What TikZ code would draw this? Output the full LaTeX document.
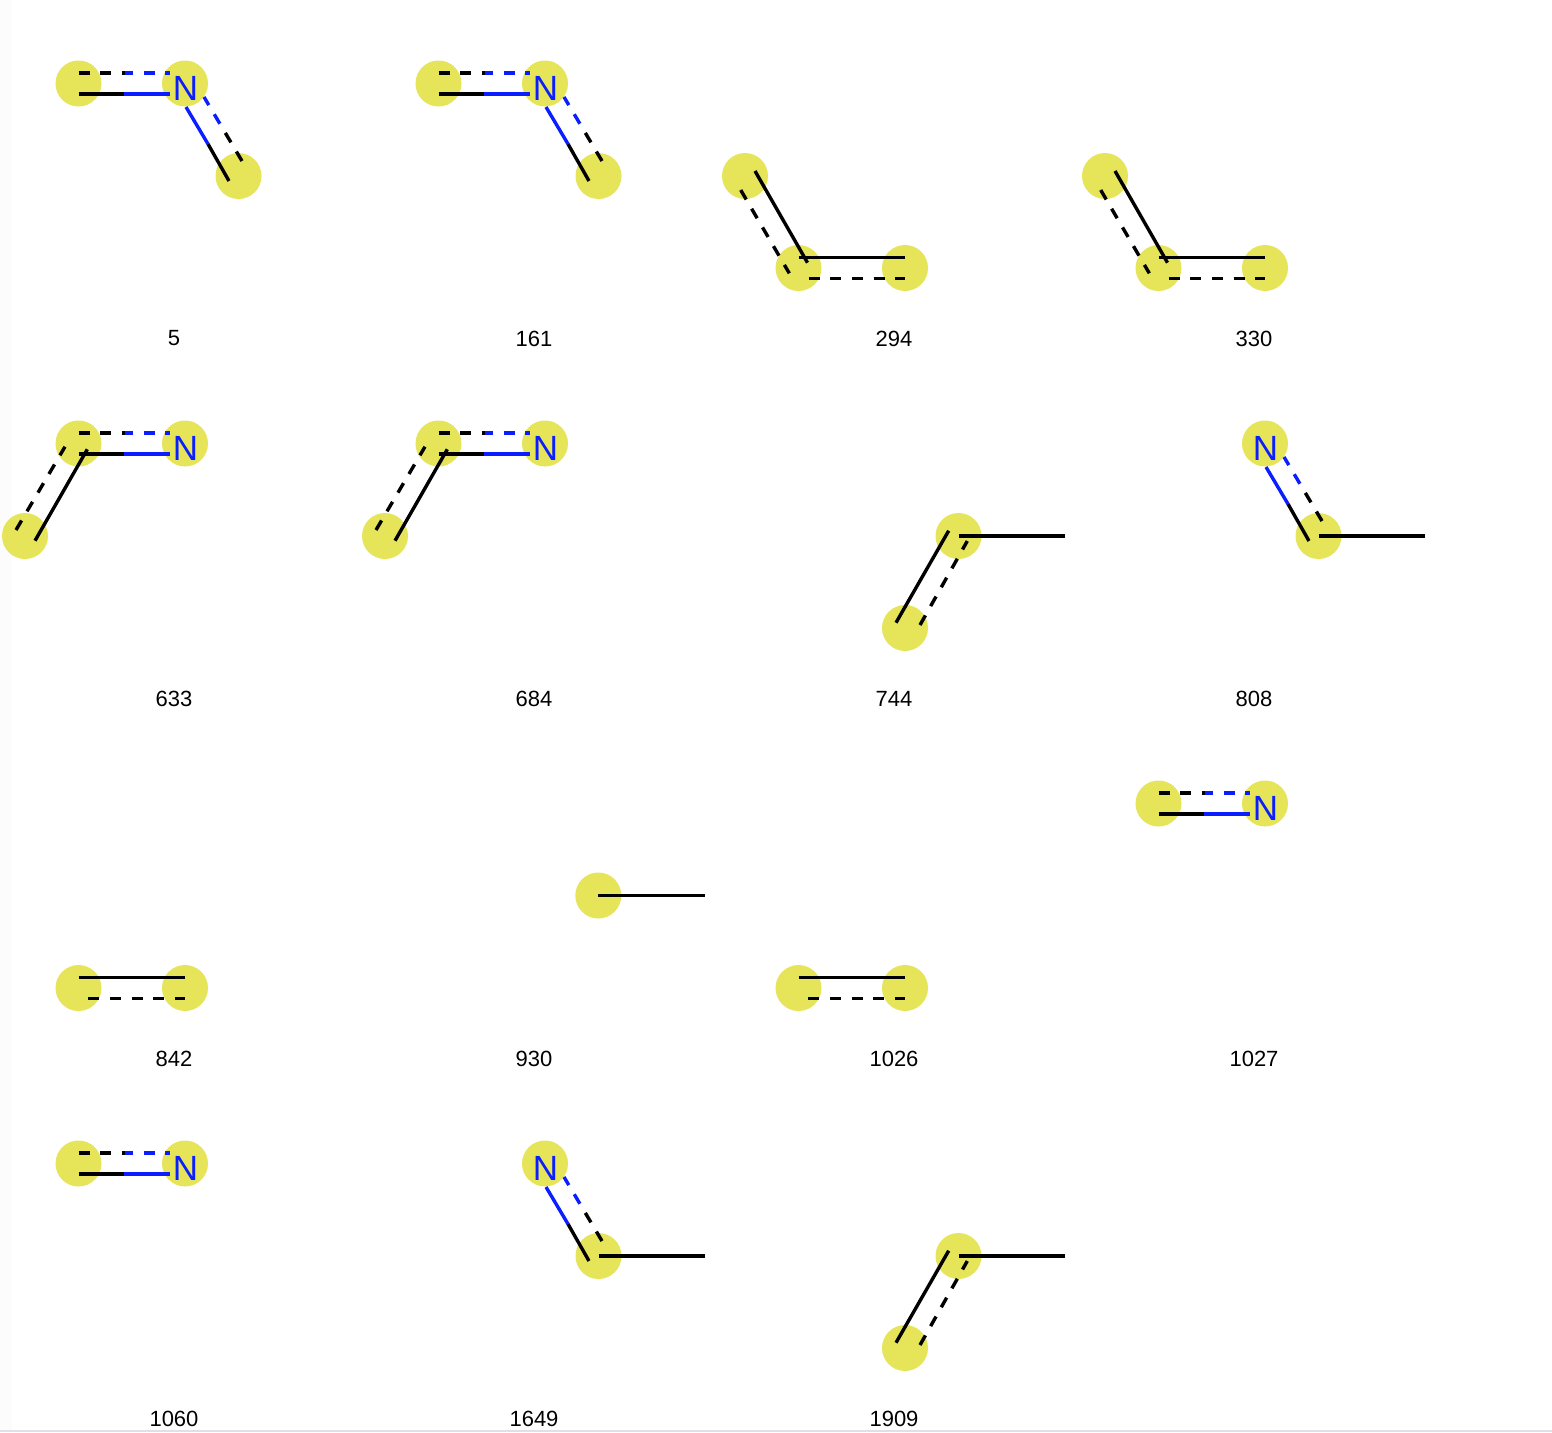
\documentclass[tikz,border=0pt]{standalone}
\usepackage{fontspec}
\setmainfont{Liberation Sans}
\definecolor{atomyellow}{HTML}{E6E55A}
\definecolor{nblue}{HTML}{0A1EFF}
\definecolor{sidegray}{HTML}{FCFCFC}
\definecolor{bargray}{HTML}{E0E0E8}
\tikzset{
  atom/.style={circle,fill=atomyellow,minimum size=46pt,inner sep=0pt,outer sep=0pt},
  bondline/.style={line width=3.4pt},
  dashline/.style={line width=3.4pt,dash pattern=on 11pt off 10.67pt},
  idlabel/.style={font=\fontsize{22}{26}\selectfont,inner sep=0pt,text=black},
  nlabel/.style={font=\fontsize{35}{40}\selectfont,inner sep=0pt,text=nblue}
}
% offset coordinate: name, atom, dx, dy
\newcommand\offc[4]{\coordinate (#1) at ([shift={(#3,#4)}]#2.center);}
% N label over atom
\newcommand\nitrogen[2]{\node[nlabel] (#2) at ([shift={(0.5,5)}]#1.center) {N};}
% horizontal C-N bond pair, atoms (a) and (b)
\newcommand\bondCN{%
  \offc{sa}{a}{0}{10.5}\offc{sm}{a}{45.5}{10.5}\offc{sb}{a}{91}{10.5}%
  \offc{da}{a}{0}{-10.5}\offc{dm}{a}{46}{-10.5}\offc{db}{a}{91.5}{-10.5}%
  \draw[bondline,black] (sa) -- (sm);
  \draw[bondline,nblue] (sm) -- (sb);
  \draw[dashline,black] (da) -- (dm);
  \draw[dashline,nblue,dash phase=46pt] (dm) -- (db);
}
% N-C bond pair going down right from (n) to (c)
\newcommand\bondNC{%
  \offc{ta}{n}{1}{23.5}\offc{tm}{n}{23}{60.5}\offc{tb}{n}{44}{97.5}%
  \offc{ea}{n}{57}{77.5}\offc{em}{n}{37.6}{44.8}\offc{eb}{n}{19}{13.5}%
  \draw[bondline,nblue] (ta) -- (tm);
  \draw[bondline,black] (tm) -- (tb);
  \draw[dashline,black] (ea) -- (em);
  \draw[dashline,nblue,dash phase=38pt] (em) -- (eb);
}
% molecule templates, in the coordinates of the first cell
\newcommand\tplA{% 5, 161
  \node[atom] (a) at (78.5,83.5) {};
  \node[atom] (b) at (185,83.5) {};
  \node[atom] (c) at (238.5,176) {};
  \coordinate (n) at (b);
  \bondCN \bondNC \nitrogen{b}{bl}
}
\newcommand\tplB{% 294, 330
  \node[atom] (a) at (25,176) {};
  \node[atom] (b) at (78.5,268) {};
  \node[atom] (c) at (185,268) {};
  \offc{p1}{a}{10}{-5}\offc{p2}{b}{9}{-5.3}
  \offc{p3}{b}{0}{-10.5}\offc{p4}{c}{0}{-10.5}
  \offc{q1}{a}{-4.3}{14}\offc{q2}{b}{-9.2}{5.3}
  \offc{q3}{b}{10}{10.5}\offc{q4}{c}{0}{10.5}
  \draw[bondline] (p1) -- (p2);
  \draw[bondline] (p3) -- (p4);
  \draw[dashline] (q1) -- (q2);
  \draw[dashline] (q3) -- (q4);
}
\newcommand\tplC{% 633, 684
  \node[atom] (z) at (25,536) {};
  \node[atom] (a) at (78.5,443.5) {};
  \node[atom] (b) at (185,443.5) {};
  \offc{p1}{z}{10}{4.7}\offc{p2}{a}{8.8}{5.8}
  \offc{q1}{z}{-9}{-6}\offc{q2}{a}{-13.5}{3.2}
  \draw[bondline] (p1) -- (p2);
  \draw[dashline] (q1) -- (q2);
  \bondCN \nitrogen{b}{bl}
}
\newcommand\tplD{% 744, 1909
  \node[atom] (a) at (185,628) {};
  \node[atom] (b) at (238.5,536) {};
  \coordinate (e) at (345,536);
  \offc{p1}{a}{-9}{-5.3}\offc{p2}{b}{-9.8}{-5.3}
  \offc{q1}{a}{15}{-3}\offc{q2}{b}{8.8}{5}
  \draw[bondline] (p1) -- (p2);
  \draw[dashline] (q1) -- (q2);
  \draw[bondline] (b.center) -- (e);
}
\newcommand\tplE{% 808, 1649
  \node[atom] (n) at (185,83.5) {};
  \node[atom] (c) at (238.5,176) {};
  \coordinate (e) at (345,176);
  \bondNC
  \draw[bondline] (c.center) -- (e);
  \nitrogen{n}{nl}
}
\newcommand\tplF{% 842, 1026
  \node[atom] (a) at (78.5,988) {};
  \node[atom] (b) at (185,988) {};
  \offc{p1}{a}{0}{-10.7}\offc{p2}{b}{0}{-10.7}
  \offc{q1}{a}{9.8}{10.7}\offc{q2}{b}{0}{10.7}
  \draw[bondline] (p1) -- (p2);
  \draw[dashline] (q1) -- (q2);
}
\newcommand\tplG{% 1027, 1060
  \node[atom] (a) at (78.5,83.5) {};
  \node[atom] (b) at (185,83.5) {};
  \bondCN \nitrogen{b}{bl}
}
\begin{document}
\begin{tikzpicture}[x=1pt,y=-1pt]
\useasboundingbox (0,0) rectangle (1552,1432);
\fill[white] (0,0) rectangle (1552,1432);
\fill[sidegray] (0,0) rectangle (12,1430);
\fill[bargray] (0,1430) rectangle (1552,1432);

\begin{scope}[name prefix=m5-]\tplA\end{scope}
\begin{scope}[shift={(360,0)},name prefix=m161-]\tplA\end{scope}
\begin{scope}[shift={(720,0)},name prefix=m294-]\tplB\end{scope}
\begin{scope}[shift={(1080,0)},name prefix=m330-]\tplB\end{scope}

\begin{scope}[name prefix=m633-]\tplC\end{scope}
\begin{scope}[shift={(360,0)},name prefix=m684-]\tplC\end{scope}
\begin{scope}[shift={(720,0)},name prefix=m744-]\tplD\end{scope}
\begin{scope}[shift={(1080,360)},name prefix=m808-]\tplE\end{scope}

\begin{scope}[name prefix=m842-]\tplF\end{scope}
\begin{scope}[name prefix=m930-]
  \node[atom] (a) at (598.3,895.5) {};
  \coordinate (e) at (705,895.5);
  \draw[bondline] (a.center) -- (e);
\end{scope}
\begin{scope}[shift={(720,0)},name prefix=m1026-]\tplF\end{scope}
\begin{scope}[shift={(1080,720)},name prefix=m1027-]\tplG\end{scope}

\begin{scope}[shift={(0,1080)},name prefix=m1060-]\tplG\end{scope}
\begin{scope}[shift={(360,1080)},name prefix=m1649-]\tplE\end{scope}
\begin{scope}[shift={(720,720)},name prefix=m1909-]\tplD\end{scope}

\node[idlabel] (l5) at (174,338.5) {5};
\node[idlabel] (l161) at (534,338.5) {161};
\node[idlabel] (l294) at (894,338.5) {294};
\node[idlabel] (l330) at (1254,338.5) {330};
\node[idlabel] (l633) at (174,698.5) {633};
\node[idlabel] (l684) at (534,698.5) {684};
\node[idlabel] (l744) at (894,698.5) {744};
\node[idlabel] (l808) at (1254,698.5) {808};
\node[idlabel] (l842) at (174,1058.5) {842};
\node[idlabel] (l930) at (534,1058.5) {930};
\node[idlabel] (l1026) at (894,1058.5) {1026};
\node[idlabel] (l1027) at (1254,1058.5) {1027};
\node[idlabel] (l1060) at (174,1418.5) {1060};
\node[idlabel] (l1649) at (534,1418.5) {1649};
\node[idlabel] (l1909) at (894,1418.5) {1909};
\end{tikzpicture}
\end{document}
